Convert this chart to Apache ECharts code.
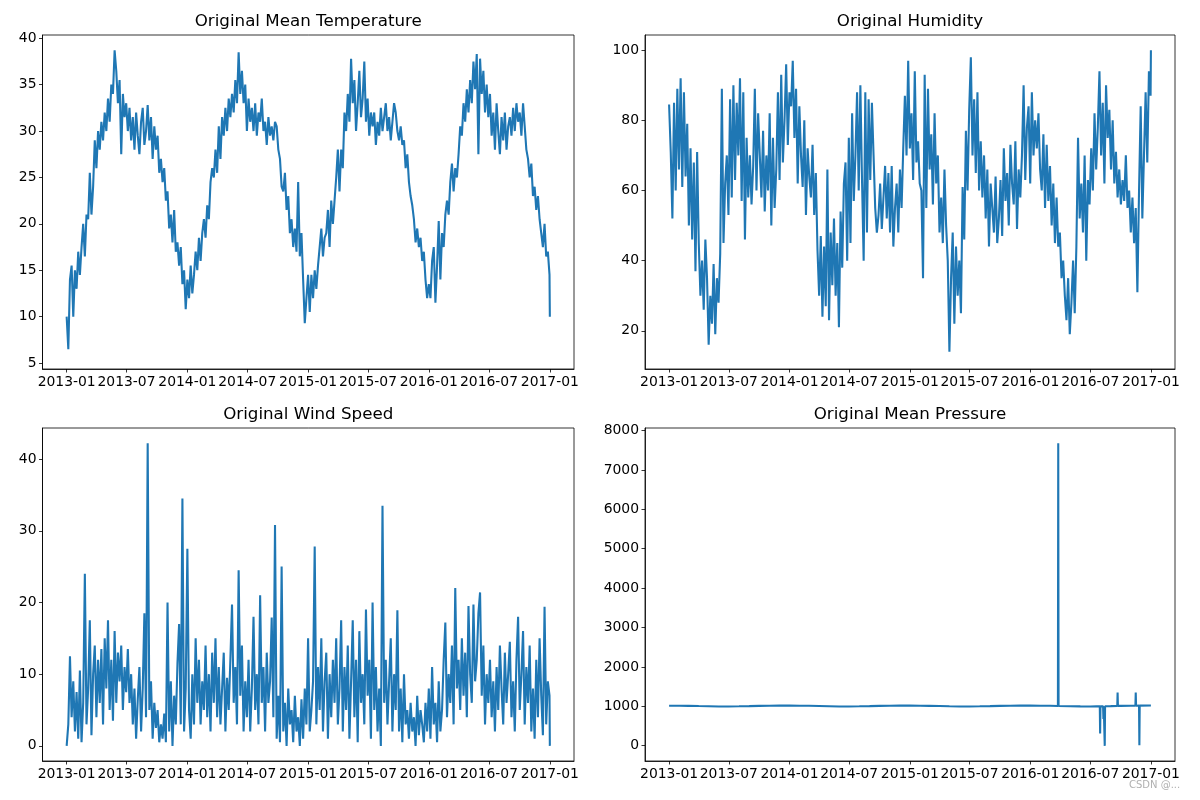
<!DOCTYPE html>
<html><head><meta charset="utf-8">
<script src="https://cdn.jsdelivr.net/npm/echarts@6/dist/echarts.min.js"></script>
<style>html,body{margin:0;padding:0;background:#fff}#c{width:1200px;height:800px}</style>
</head><body><div id="c"></div>
<script>
// x positions: days since 2013-01-01, samples every 5 days (last = 2017-01-01)
const tickDays = [0,181,365,546,730,911,1095,1277,1461];
const tickLabels = ['2013-01','2013-07','2014-01','2014-07','2015-01','2015-07','2016-01','2016-07','2017-01'];
const titles = ['Original Mean Temperature','Original Humidity','Original Wind Speed','Original Mean Pressure'];

const meanTemp = [
10,6.5,14,15.5,10,15,13,17,14.5,17.5,
20,16.5,21,20.5,25.5,21,24,29,26,30,
28,31,29,32,30,33.5,31,35,34,38.7,
36.5,33,35.5,27.5,34,31.5,33,30,32.5,29,
31.5,28,32,29.5,27.5,31,32.5,28.5,30,32.8,
29,31.5,27,30.5,28,29.5,25.5,27,24.5,26,
22.5,23.5,19.5,21,18,21.5,17,18,15.5,17.5,
13.5,15,10.8,14,12,15.5,12.5,14.5,17,15,
18.5,16,19,20.5,18.5,22,20.5,24.5,26,25,
28,25.5,30.5,27,31.5,29.5,32.5,30,33.5,31.5,
34,32,35.5,33,38.5,34,36.5,33,35,30,
33.5,31,32.5,30,33,29.5,32,31,33.5,30,
31,28.5,31.5,29.5,30.5,29,31,30.5,28,27,
24,23.5,25.5,21.5,23,19,20.5,17.5,19.5,17,
24.5,16.5,19,14,9.3,12,14.5,10.5,14.5,12,
15,13,15.5,17.5,19.5,16.5,18.5,19,21.5,17.5,
22.5,20,22.5,25,28,23.5,28,26,32,30,
34,31,37.8,33,35.5,30,33,36.5,31.5,33.5,
37.5,31,33.5,29.5,32,30.5,32,28.5,31,29.5,
32.5,30,31.5,33,30,31.5,29,31,33,32,
30,29,30.5,28.5,29,26,27.5,24.5,23,22,
20.5,18,19.5,17.5,18.5,16,17,14,12,13.5,
12,16,17.5,11.5,15.5,20.3,14,19,17.5,21,
22.5,21,24.5,26.5,23.5,26,25,27.5,30.5,29.5,
33,31,34.5,32,35.5,33,37.5,34.5,38.3,27.5,
37.8,34,36.5,32,35,31.5,34,29.5,32,28,
33,30,27.5,31.5,29,32,28,30.5,31.5,29.5,
32.5,30,33,31,32,29.5,33,30.5,28,27,
25,26.5,23,24,21.5,23,20.5,19,17.5,20,
16.5,17,14.5,10];

const humidity = [
84.5,71,52,85,60,89,66,92,61,88,
64,79,50,72,46,68,37,71,45,30,
40,26,46,35,16,30,22,39,19,35,
28,42,89,45,62,70,53,86,58,90,
63,85,70,92,57,88,46,75,58,70,
56,67,89,60,82,70,58,77,54,70,
60,82,50,75,55,66,88,63,93,68,
80,96,73,88,84,97,75,89,62,84,
70,61,80,53,72,64,58,73,53,65,
43,30,47,24,44,27,66,23,48,33,
52,30,45,21,54,38,62,68,40,75,
45,82,57,70,88,60,90,63,40,88,
48,86,63,85,70,55,48,53,62,49,
58,67,52,65,48,67,44,55,62,48,
66,55,72,87,70,97,72,82,63,94,
68,74,62,60,35,93,55,89,66,76,
56,82,62,70,48,58,45,66,50,40,
14,35,48,22,44,30,40,25,61,46,
77,60,83,98,70,86,65,88,60,74,
58,70,52,66,44,62,55,48,64,45,
52,63,47,72,57,65,50,73,62,56,
74,49,66,58,70,90,63,78,84,62,
88,70,80,72,82,66,60,76,55,73,
57,67,50,62,45,58,44,48,35,40,
30,23,35,19,28,40,25,44,75,52,
62,48,70,40,63,56,72,60,82,66,
78,94,70,85,62,90,75,83,66,80,
62,71,58,66,56,63,57,70,55,60,
48,58,45,55,31,60,84,52,70,88,
68,94,87,100];

const windSpeed = [
0,3,12.5,4,9,2,7.5,1,10.5,0.5,
6,24,3,8,17.5,1.5,10,14,4,12,
6,13.5,3,15,8,17.5,5,12,3.5,16,
6,13,9,14,5,11,7.5,13.5,6,10,
3,8,1,6.5,11,2,8,18.5,4,42.2,
5,9,1,6,2.5,5,0.5,3,1,4.5,
0.5,20,2,9,0,7,3,11.5,17,3,
34.5,2,8,27.5,5,1,10,3,15,6,
12,3,9,5,14,4,10,2,13,6,
15,4,11,3,8,13,2,9.5,5,12,
19.7,6,11,3,24.5,7,14,2,9,4,
12,2,8,18,5,10,3,21,6,11,
2,13,6,9,17.9,4,30.8,1,7,0.5,
25,2,6,0,8,3,5,0.5,7,2,
4,0,6.5,1,8,3,15,2,5,9,
27.8,3,11,5,15,2,9,13,1,10,
4,12,6,15,3,8,17.5,2,11,5,
14,1,9,17.5,4,12,0.5,16,6,10,
3,19,7,12,1,20,5,11,2,8,
0,33.5,6,12,3,9,15,2,10,5,
18.9,2,8,0.5,10,3,5,1,6,2,
4,0,7,1.5,5,3,0.5,6,2,8,
1,11,3,6,0.5,9,2,5,12,17.2,
4,10,6,14,3,22,8,12,5,15,
7,13,4,19.5,10,6,19.7,9,12,18.5,
21.4,7,14,3,10,6,12,4,9,2,
11,5,14,8,3,13,6,10,14.5,4,
9,2,12,18,5,10,16,3,11,6,
14,2,8,1,12,4,15,7,1.5,19.4,
3,9,7,0];

const pressDays = [0,31,59,90,120,151,181,212,243,273,304,334,
365,396,424,455,485,516,546,577,608,638,669,699,
730,761,789,820,850,881,911,942,973,1003,1034,1064,
1095,1126,1155,1179,1180,1181,1186,1216,1247,1250,1251,1252,1277,1296,1297,1298,
1306,1307,1308,1316,1317,1318,1320,1321,1322,1339,1359,1360,1361,1369,1400,
1414,1415,1416,1425,1426,1427,1430,1461];
const pressVals = [1017,1015,1012,1007,1003,998,998,1001,1005,1011,1016,1018,
1018,1016,1013,1008,1003,998,997,1001,1006,1012,1016,1018,
1018,1016,1012,1008,1003,998,998,1001,1006,1012,1016,1018,
1018,1016,1013,1010,7679,1010,1008,1004,999,998,962,998,997,1000,975,1000,
1000,310,1000,1001,680,1001,1001,-3,1002,1005,1010,1350,1011,1012,1016,
1017,1352,1017,1018,12,1018,1018,1021];

const yTicks = [[5,10,15,20,25,30,35,40],[20,40,60,80,100],[0,10,20,30,40],[0,1000,2000,3000,4000,5000,6000,7000,8000]];
const yRanges = [[4.36,40.35],[9.1,104.33],[-2.11,44.33],[-387.2,8063.4]];

function sampled(vals){ return vals.map((v,i)=>[Math.min(i*5,1461), v]); }
const seriesData = [sampled(meanTemp), sampled(humidity), sampled(windSpeed), pressDays.map((d,i)=>[d, pressVals[i]])];

const font = 'DejaVu Sans';
const grids = [
  {left:42.5, top:35, width:531.5, height:334},
  {left:645, top:35, width:530, height:334},
  {left:42.5, top:428, width:531.5, height:333},
  {left:645, top:428, width:530, height:333}
].map(g=>Object.assign(g,{show:true, borderColor:'#000', borderWidth:0.8, backgroundColor:'#fff', containLabel:false, outerBoundsMode:'none'}));

const xAxes = grids.map((g,i)=>({
  type:'value', gridIndex:i, min:-73.05, max:1534.05,
  axisLine:{show:true, onZero:false, lineStyle:{color:'#000', width:0.8}},
  axisTick:{show:true, length:3.5, customValues:tickDays, lineStyle:{color:'#000', width:0.8}},
  axisLabel:{show:true, margin:6, customValues:tickDays, color:'#000', fontFamily:font, fontSize:13.9,
    formatter:v=>{const k=tickDays.indexOf(Math.round(v)); return k>=0?tickLabels[k]:'';}},
  splitLine:{show:false}
}));
const yAxes = grids.map((g,i)=>({
  type:'value', gridIndex:i, min:yRanges[i][0], max:yRanges[i][1],
  axisLine:{show:true, onZero:false, lineStyle:{color:'#000', width:0.8}},
  axisTick:{show:true, length:3.5, customValues:yTicks[i], lineStyle:{color:'#000', width:0.8}},
  axisLabel:{show:true, margin:6, customValues:yTicks[i], color:'#000', fontFamily:font, fontSize:13.9, formatter:v=>String(Math.round(v))},
  splitLine:{show:false}
}));
const titleOpts = titles.map((t,i)=>({
  text:t, left:grids[i].left+grids[i].width/2, top:grids[i].top-22, textAlign:'center', padding:0,
  textStyle:{fontFamily:font, fontSize:16.7, fontWeight:'normal', color:'#000'}
}));
const series = seriesData.map((d,i)=>({
  type:'line', xAxisIndex:i, yAxisIndex:i, data:d, showSymbol:false, symbol:'none',
  lineStyle:{color:'#1f77b4', width:2.08}, itemStyle:{color:'#1f77b4'}, clip:true, animation:false
}));

const chart = echarts.init(document.getElementById('c'), null, {renderer:'canvas'});
chart.setOption({
  animation:false, backgroundColor:'#fff',
  title:titleOpts, grid:grids, xAxis:xAxes, yAxis:yAxes, series:series,
  graphic:[{type:'text', left:1129, top:780, style:{text:'CSDN @...', fill:'#b0b0b0', font:'10px "DejaVu Sans"'}}]
});
</script></body></html>
